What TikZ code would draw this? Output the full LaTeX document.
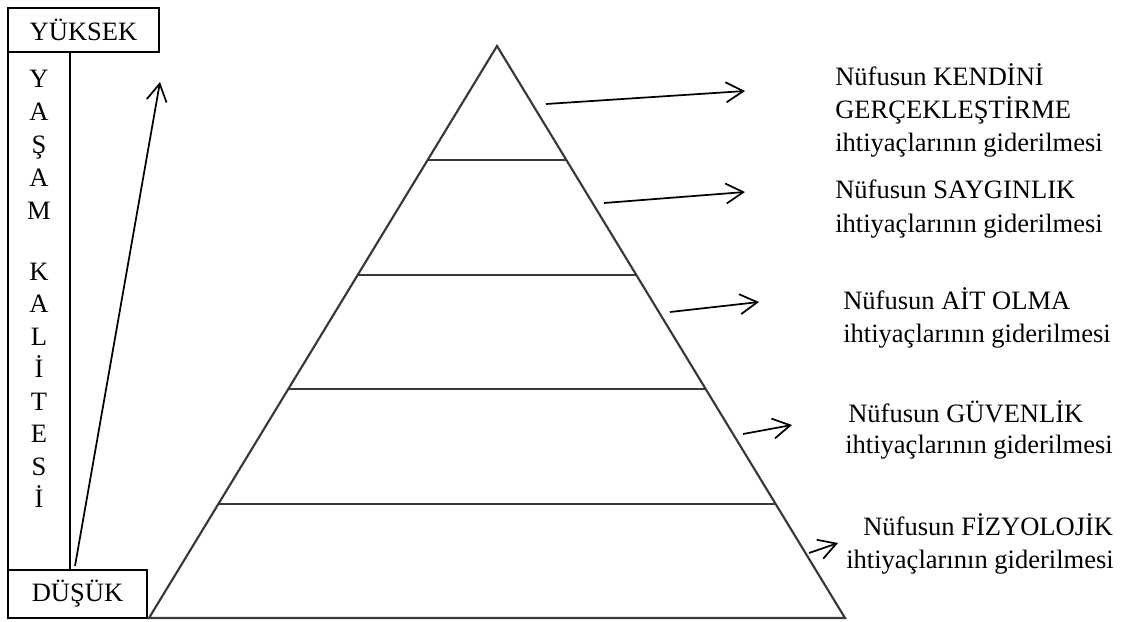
\documentclass[tikz,border=0pt]{standalone}
\usepackage{fontspec}
\setmainfont{Liberation Serif}
\usetikzlibrary{arrows.meta,calc}
\begin{document}
\begin{tikzpicture}[x=0.75pt,y=-0.75pt,
  pyr/.style={draw=black!78, line width=1.6pt, line join=miter},
  pointer/.style={draw, line width=1.3pt,
    -{Straight Barb[length=13pt,width=15pt,line width=1.3pt]}},
  txt/.style={font=\fontsize{19.9}{24}\selectfont},
  lbl/.style={txt, inner sep=0pt, anchor=base west},
  vletter/.style={txt, inner sep=0pt, anchor=base},
  frame/.style={draw, line width=0.8pt, inner sep=0pt, txt}]
\useasboundingbox (0,0) rectangle (1141,621);

% scale on the left
\node[frame, minimum width=46.5pt, minimum height=388.5pt] (column) at (39,311) {};
\node[frame, minimum width=113.25pt, minimum height=33pt, fill=white] (high) at (83.5,30) {YÜKSEK};
\node[frame, minimum width=104.25pt, minimum height=36pt, fill=white] (low) at (77.5,594) {DÜŞÜK};

\foreach \ch [count=\i from 0] in {Y,A,Ş,A,M}
  \node[vletter] (va\i) at (39,{87+33*\i}) {\ch};
\foreach \ch [count=\i from 0] in {K,A,L,İ,T,E,S,İ}
  \node[vletter] (vb\i) at (39,{280+32.5*\i}) {\ch};

\coordinate (upfrom) at (75,566);
\coordinate (upto) at (160,82);
\draw[pointer] (upfrom) -- (upto);

% pyramid with five levels
\coordinate (apex) at (497,46);
\coordinate (bl) at (149,618);
\coordinate (br) at (845,618);
\draw[pyr] (apex) -- (br) -- (bl) -- cycle;
\foreach \t in {0.2,0.4,0.6,0.8}
  \draw[pyr] ($(apex)!\t!(bl)$) -- ($(apex)!\t!(br)$);

% level descriptions
\node[lbl] (t11) at (835,85) {Nüfusun KENDİNİ};
\node[lbl] (t12) at (835,118) {GERÇEKLEŞTİRME};
\node[lbl] (t13) at (835,151) {ihtiyaçlarının giderilmesi};
\node[lbl] (t21) at (835,198) {Nüfusun SAYGINLIK};
\node[lbl] (t22) at (835,232) {ihtiyaçlarının giderilmesi};
\node[lbl] (t31) at (843,309) {Nüfusun AİT OLMA};
\node[lbl] (t32) at (843,342) {ihtiyaçlarının giderilmesi};
\node[lbl] (t41) at (848,422) {Nüfusun GÜVENLİK};
\node[lbl] (t42) at (845,453) {ihtiyaçlarının giderilmesi};
\node[lbl] (t51) at (863,535) {Nüfusun FİZYOLOJİK};
\node[lbl] (t52) at (846,568) {ihtiyaçlarının giderilmesi};

% pointers from the levels to their descriptions
\coordinate (s1) at (546,104); \coordinate (e1) at (745,91);
\coordinate (s2) at (604,203); \coordinate (e2) at (745,192);
\coordinate (s3) at (670,312); \coordinate (e3) at (759,302);
\coordinate (s4) at (743,434); \coordinate (e4) at (792,425);
\coordinate (s5) at (809,553); \coordinate (e5) at (838,543);
\foreach \k in {1,...,5}
  \draw[pointer] (s\k) -- (e\k);
\end{tikzpicture}
\end{document}
